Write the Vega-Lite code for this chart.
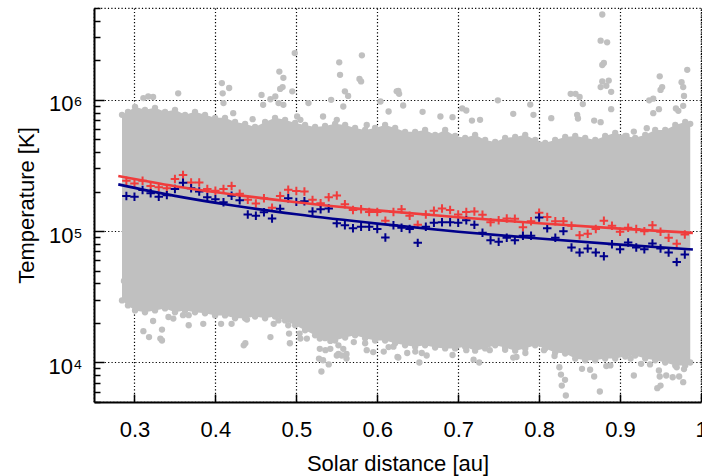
{
"$schema": "https://vega.github.io/schema/vega-lite/v6.json",
"width": 607, "height": 394,
"autosize": {"type": "none"},
"padding": {"left": 94, "top": 8, "right": 1, "bottom": 74},
"background": "white",
"config": {
  "font": "Liberation Sans",
  "view": {"stroke": "black", "strokeDash": [1.2, 2.2], "strokeWidth": 1.2},
  "axis": {"labelFont": "Liberation Sans", "titleFont": "Liberation Sans", "labelFontSize": 22, "titleFontSize": 22, "titleFontWeight": "normal", "labelColor": "black", "titleColor": "black", "domainColor": "black", "domainWidth": 2, "tickColor": "black", "tickWidth": 1.5, "gridColor": "black", "gridDash": [1.2, 2.2], "gridWidth": 1.2, "zindex": 1, "labelFlush": false, "labelOverlap": false}
},
"datasets": {
  "band": [
    {"x":0.2846,"T":768000,"T2":29700},{"x":0.292,"T":810000,"T2":27200},{"x":0.3007,"T":884000,"T2":24900},{"x":0.313,"T":839000,"T2":24100},{"x":0.3254,"T":869000,"T2":24900},{"x":0.3378,"T":810000,"T2":25800},{"x":0.3501,"T":839000,"T2":24100},{"x":0.3625,"T":768000,"T2":24900},{"x":0.3748,"T":810000,"T2":24100},{"x":0.3872,"T":768000,"T2":23700},{"x":0.3996,"T":729000,"T2":22800},{"x":0.4119,"T":729000,"T2":22800},{"x":0.4243,"T":679000,"T2":21700},{"x":0.4367,"T":656000,"T2":21700},{"x":0.449,"T":622000,"T2":22400},{"x":0.4614,"T":679000,"T2":21700},{"x":0.4737,"T":729000,"T2":22400},{"x":0.4861,"T":704000,"T2":20900},{"x":0.4985,"T":667000,"T2":19200},{"x":0.5108,"T":644000,"T2":17600},{"x":0.5232,"T":622000,"T2":16100},{"x":0.5355,"T":633000,"T2":15300},{"x":0.5479,"T":656000,"T2":14700},{"x":0.5603,"T":644000,"T2":15500},{"x":0.5726,"T":611000,"T2":16100},{"x":0.585,"T":590000,"T2":15300},{"x":0.5973,"T":611000,"T2":14700},{"x":0.6097,"T":644000,"T2":14700},{"x":0.6221,"T":611000,"T2":14000},{"x":0.6344,"T":570000,"T2":13500},{"x":0.6468,"T":570000,"T2":13200},{"x":0.6591,"T":590000,"T2":13500},{"x":0.6715,"T":541000,"T2":13000},{"x":0.6839,"T":590000,"T2":12800},{"x":0.6962,"T":531000,"T2":12800},{"x":0.7086,"T":513000,"T2":13200},{"x":0.7209,"T":541000,"T2":12300},{"x":0.7333,"T":495000,"T2":12800},{"x":0.7457,"T":478000,"T2":13500},{"x":0.758,"T":513000,"T2":13000},{"x":0.7704,"T":522000,"T2":12300},{"x":0.7828,"T":541000,"T2":12800},{"x":0.7951,"T":495000,"T2":13500},{"x":0.8075,"T":470000,"T2":12800},{"x":0.8198,"T":495000,"T2":11900},{"x":0.8322,"T":522000,"T2":11700},{"x":0.8446,"T":531000,"T2":10700},{"x":0.8569,"T":513000,"T2":10400},{"x":0.8693,"T":495000,"T2":10400},{"x":0.8816,"T":531000,"T2":10700},{"x":0.894,"T":560000,"T2":10700},{"x":0.9064,"T":531000,"T2":11100},{"x":0.9187,"T":513000,"T2":11300},{"x":0.9311,"T":541000,"T2":10700},{"x":0.9434,"T":590000,"T2":10400},{"x":0.9558,"T":590000,"T2":10000},{"x":0.9682,"T":644000,"T2":9490},{"x":0.9805,"T":679000,"T2":9490},{"x":0.9867,"T":656000,"T2":10000}
  ],
  "pts": [
    {"x":0.498,"T":2270000},{"x":0.581,"T":2180000},{"x":0.553,"T":1930000},{"x":0.554,"T":1550000},{"x":0.578,"T":1440000},{"x":0.58,"T":1380000},{"x":0.479,"T":1640000},{"x":0.484,"T":1470000},{"x":0.48,"T":1210000},{"x":0.483,"T":1250000},{"x":0.495,"T":1160000},{"x":0.408,"T":1340000},{"x":0.409,"T":1120000},{"x":0.417,"T":1230000},{"x":0.354,"T":1120000},{"x":0.457,"T":1090000},{"x":0.474,"T":1060000},{"x":0.56,"T":1160000},{"x":0.564,"T":1070000},{"x":0.543,"T":1000000},{"x":0.515,"T":944000},{"x":0.468,"T":1010000},{"x":0.624,"T":1160000},{"x":0.604,"T":970000},{"x":0.311,"T":1030000},{"x":0.317,"T":1060000},{"x":0.323,"T":1050000},{"x":0.41,"T":944000},{"x":0.459,"T":916000},{"x":0.478,"T":944000},{"x":0.484,"T":916000},{"x":0.558,"T":889000},{"x":0.614,"T":814000},{"x":0.422,"T":791000},{"x":0.446,"T":712000},{"x":0.501,"T":746000},{"x":0.505,"T":704000},{"x":0.533,"T":746000},{"x":0.55,"T":704000},{"x":0.587,"T":644000},
    {"x":0.878,"T":4460000},{"x":0.876,"T":2820000},{"x":0.884,"T":2740000},{"x":0.878,"T":1840000},{"x":0.88,"T":1910000},{"x":0.878,"T":1380000},{"x":0.886,"T":1400000},{"x":0.876,"T":1250000},{"x":0.883,"T":1280000},{"x":0.889,"T":1150000},{"x":0.983,"T":1690000},{"x":0.949,"T":1510000},{"x":0.976,"T":1360000},{"x":0.978,"T":1250000},{"x":0.952,"T":1250000},{"x":0.95,"T":1190000},{"x":0.979,"T":1070000},{"x":0.941,"T":1020000},{"x":0.936,"T":990000},{"x":0.839,"T":1110000},{"x":0.845,"T":1110000},{"x":0.85,"T":1050000},{"x":0.854,"T":927000},{"x":0.889,"T":849000},{"x":0.626,"T":1170000},{"x":0.627,"T":1110000},{"x":0.632,"T":905000},{"x":0.749,"T":990000},{"x":0.789,"T":920000},{"x":0.705,"T":860000},{"x":0.71,"T":829000},{"x":0.768,"T":782000},{"x":0.656,"T":810000},{"x":0.815,"T":725000},{"x":0.847,"T":768000},{"x":0.848,"T":720000},{"x":0.948,"T":849000},{"x":0.941,"T":791000},{"x":0.969,"T":860000},{"x":0.972,"T":824000},{"x":0.978,"T":900000},{"x":0.678,"T":746000},{"x":0.693,"T":738000},{"x":0.727,"T":704000},{"x":0.717,"T":695000},{"x":0.793,"T":768000},{"x":0.868,"T":695000},{"x":0.876,"T":676000},{"x":0.917,"T":573000},{"x":0.908,"T":531000},{"x":0.933,"T":608000},
    {"x":0.287,"T":41800},{"x":0.29,"T":32400},{"x":0.311,"T":17300},{"x":0.318,"T":15600},{"x":0.332,"T":15200},{"x":0.334,"T":14700},{"x":0.334,"T":17800},{"x":0.323,"T":20700},{"x":0.342,"T":22200},{"x":0.348,"T":21600},{"x":0.367,"T":22900},{"x":0.367,"T":19200},{"x":0.385,"T":19700},{"x":0.36,"T":22900},{"x":0.407,"T":19700},{"x":0.42,"T":19700},{"x":0.437,"T":14000},{"x":0.435,"T":13500},{"x":0.439,"T":21200},{"x":0.468,"T":15600},{"x":0.472,"T":19700},{"x":0.478,"T":20900},{"x":0.49,"T":19200},{"x":0.491,"T":16600},{"x":0.492,"T":14000},{"x":0.504,"T":16600},{"x":0.505,"T":15200},{"x":0.513,"T":15200},{"x":0.529,"T":15200},{"x":0.538,"T":15600},{"x":0.542,"T":14600},{"x":0.529,"T":12700},{"x":0.536,"T":12400},{"x":0.542,"T":12700},{"x":0.528,"T":10700},{"x":0.533,"T":10400},{"x":0.54,"T":9660},{"x":0.531,"T":8530},{"x":0.552,"T":13500},{"x":0.552,"T":11600},{"x":0.558,"T":12700},{"x":0.562,"T":11600},{"x":0.562,"T":10700},{"x":0.55,"T":11300},{"x":0.556,"T":11300},{"x":0.571,"T":14300},{"x":0.585,"T":14000},{"x":0.587,"T":12400},{"x":0.595,"T":12000},{"x":0.608,"T":12100},{"x":0.614,"T":13100},{"x":0.62,"T":13200},{"x":0.625,"T":11000},
    {"x":0.626,"T":10900},{"x":0.637,"T":11800},{"x":0.647,"T":12100},{"x":0.652,"T":10000},{"x":0.655,"T":11800},{"x":0.661,"T":11300},{"x":0.693,"T":11400},{"x":0.71,"T":12400},{"x":0.726,"T":10000},{"x":0.719,"T":10500},{"x":0.739,"T":12400},{"x":0.758,"T":12500},{"x":0.768,"T":10900},{"x":0.772,"T":11000},{"x":0.783,"T":11800},{"x":0.806,"T":12400},{"x":0.819,"T":11200},{"x":0.825,"T":9200},{"x":0.827,"T":8090},{"x":0.832,"T":7380},{"x":0.828,"T":6670},{"x":0.833,"T":5600},{"x":0.853,"T":8950},{"x":0.863,"T":8800},{"x":0.868,"T":7820},{"x":0.875,"T":6010},{"x":0.883,"T":9380},{"x":0.888,"T":9500},{"x":0.917,"T":7960},{"x":0.913,"T":10700},{"x":0.926,"T":9770},{"x":0.937,"T":9660},{"x":0.948,"T":8690},{"x":0.949,"T":7820},{"x":0.946,"T":6370},{"x":0.95,"T":6670},{"x":0.957,"T":7960},{"x":0.965,"T":7720},{"x":0.973,"T":7820},{"x":0.978,"T":7080},{"x":0.97,"T":9200},{"x":0.979,"T":8900}
  ],
  "bins": [
    {"x":0.29,"T":242000,"s":"r"},{"x":0.30,"T":231000,"s":"r"},{"x":0.31,"T":242000,"s":"r"},{"x":0.32,"T":221000,"s":"r"},{"x":0.33,"T":216000,"s":"r"},{"x":0.34,"T":212000,"s":"r"},{"x":0.35,"T":249000,"s":"r"},{"x":0.36,"T":267000,"s":"r"},{"x":0.37,"T":235000,"s":"r"},{"x":0.38,"T":235000,"s":"r"},{"x":0.39,"T":209000,"s":"r"},{"x":0.40,"T":203000,"s":"r"},{"x":0.41,"T":209000,"s":"r"},{"x":0.42,"T":221000,"s":"r"},{"x":0.43,"T":193000,"s":"r"},{"x":0.44,"T":173000,"s":"r"},{"x":0.45,"T":162000,"s":"r"},{"x":0.46,"T":178000,"s":"r"},{"x":0.47,"T":151000,"s":"r"},{"x":0.48,"T":185000,"s":"r"},{"x":0.49,"T":207000,"s":"r"},{"x":0.50,"T":202000,"s":"r"},{"x":0.51,"T":200000,"s":"r"},{"x":0.52,"T":173000,"s":"r"},{"x":0.53,"T":163000,"s":"r"},{"x":0.54,"T":181000,"s":"r"},{"x":0.55,"T":187000,"s":"r"},{"x":0.56,"T":160000,"s":"r"},{"x":0.57,"T":145000,"s":"r"},{"x":0.58,"T":147000,"s":"r"},{"x":0.59,"T":140000,"s":"r"},{"x":0.60,"T":140000,"s":"r"},{"x":0.61,"T":120000,"s":"r"},{"x":0.62,"T":140000,"s":"r"},{"x":0.63,"T":147000,"s":"r"},{"x":0.64,"T":131000,"s":"r"},{"x":0.65,"T":112000,"s":"r"},{"x":0.66,"T":134000,"s":"r"},{"x":0.67,"T":143000,"s":"r"},{"x":0.68,"T":149000,"s":"r"},{"x":0.69,"T":145000,"s":"r"},{"x":0.70,"T":134000,"s":"r"},{"x":0.71,"T":140000,"s":"r"},{"x":0.72,"T":141000,"s":"r"},{"x":0.73,"T":133000,"s":"r"},{"x":0.74,"T":117000,"s":"r"},{"x":0.75,"T":121000,"s":"r"},{"x":0.76,"T":125000,"s":"r"},{"x":0.77,"T":124000,"s":"r"},{"x":0.78,"T":107000,"s":"r"},{"x":0.79,"T":119000,"s":"r"},{"x":0.80,"T":138000,"s":"r"},{"x":0.81,"T":128000,"s":"r"},{"x":0.82,"T":119000,"s":"r"},{"x":0.83,"T":119000,"s":"r"},{"x":0.84,"T":110000,"s":"r"},{"x":0.85,"T":93200,"s":"r"},{"x":0.86,"T":95400,"s":"r"},{"x":0.87,"T":104000,"s":"r"},{"x":0.88,"T":120000,"s":"r"},{"x":0.89,"T":110000,"s":"r"},{"x":0.90,"T":98800,"s":"r"},{"x":0.91,"T":106000,"s":"r"},{"x":0.92,"T":104000,"s":"r"},{"x":0.93,"T":100000,"s":"r"},{"x":0.94,"T":111000,"s":"r"},{"x":0.95,"T":98800,"s":"r"},{"x":0.96,"T":88900,"s":"r"},{"x":0.97,"T":80000,"s":"r"},{"x":0.98,"T":94400,"s":"r"},
    {"x":0.29,"T":185000,"s":"b"},{"x":0.30,"T":183000,"s":"b"},{"x":0.31,"T":206000,"s":"b"},{"x":0.32,"T":194000,"s":"b"},{"x":0.33,"T":183000,"s":"b"},{"x":0.34,"T":188000,"s":"b"},{"x":0.35,"T":209000,"s":"b"},{"x":0.36,"T":234000,"s":"b"},{"x":0.37,"T":212000,"s":"b"},{"x":0.38,"T":200000,"s":"b"},{"x":0.39,"T":181000,"s":"b"},{"x":0.40,"T":175000,"s":"b"},{"x":0.41,"T":166000,"s":"b"},{"x":0.42,"T":186000,"s":"b"},{"x":0.43,"T":172000,"s":"b"},{"x":0.44,"T":134000,"s":"b"},{"x":0.45,"T":131000,"s":"b"},{"x":0.46,"T":139000,"s":"b"},{"x":0.47,"T":125000,"s":"b"},{"x":0.48,"T":148000,"s":"b"},{"x":0.49,"T":178000,"s":"b"},{"x":0.50,"T":167000,"s":"b"},{"x":0.51,"T":169000,"s":"b"},{"x":0.52,"T":141000,"s":"b"},{"x":0.53,"T":147000,"s":"b"},{"x":0.54,"T":149000,"s":"b"},{"x":0.55,"T":115000,"s":"b"},{"x":0.56,"T":111000,"s":"b"},{"x":0.57,"T":105000,"s":"b"},{"x":0.58,"T":108000,"s":"b"},{"x":0.59,"T":108000,"s":"b"},{"x":0.60,"T":104000,"s":"b"},{"x":0.61,"T":89500,"s":"b"},{"x":0.62,"T":111000,"s":"b"},{"x":0.63,"T":106000,"s":"b"},{"x":0.64,"T":104000,"s":"b"},{"x":0.65,"T":81400,"s":"b"},{"x":0.66,"T":108000,"s":"b"},{"x":0.67,"T":116000,"s":"b"},{"x":0.68,"T":117000,"s":"b"},{"x":0.69,"T":117000,"s":"b"},{"x":0.70,"T":116000,"s":"b"},{"x":0.71,"T":121000,"s":"b"},{"x":0.72,"T":112000,"s":"b"},{"x":0.73,"T":97100,"s":"b"},{"x":0.74,"T":85400,"s":"b"},{"x":0.75,"T":82900,"s":"b"},{"x":0.76,"T":89200,"s":"b"},{"x":0.77,"T":85400,"s":"b"},{"x":0.78,"T":92100,"s":"b"},{"x":0.79,"T":92100,"s":"b"},{"x":0.80,"T":127000,"s":"b"},{"x":0.81,"T":105000,"s":"b"},{"x":0.82,"T":88900,"s":"b"},{"x":0.83,"T":100000,"s":"b"},{"x":0.84,"T":75100,"s":"b"},{"x":0.85,"T":68800,"s":"b"},{"x":0.86,"T":73800,"s":"b"},{"x":0.87,"T":68800,"s":"b"},{"x":0.88,"T":64400,"s":"b"},{"x":0.89,"T":79600,"s":"b"},{"x":0.90,"T":72900,"s":"b"},{"x":0.91,"T":82000,"s":"b"},{"x":0.92,"T":75100,"s":"b"},{"x":0.93,"T":72900,"s":"b"},{"x":0.94,"T":80500,"s":"b"},{"x":0.95,"T":73800,"s":"b"},{"x":0.96,"T":68800,"s":"b"},{"x":0.97,"T":58300,"s":"b"},{"x":0.98,"T":66400,"s":"b"}
  ],
  "fit": [
    {"x":0.28,"T":263000,"s":"r"},{"x":0.35,"T":220000,"s":"r"},{"x":0.42,"T":191000,"s":"r"},{"x":0.5,"T":166000,"s":"r"},{"x":0.6,"T":144000,"s":"r"},{"x":0.7,"T":127500,"s":"r"},{"x":0.8,"T":114700,"s":"r"},{"x":0.9,"T":104500,"s":"r"},{"x":0.99,"T":97000,"s":"r"},
    {"x":0.28,"T":227000,"s":"b"},{"x":0.35,"T":185500,"s":"b"},{"x":0.42,"T":157300,"s":"b"},{"x":0.5,"T":134400,"s":"b"},{"x":0.6,"T":114000,"s":"b"},{"x":0.7,"T":99000,"s":"b"},{"x":0.8,"T":87800,"s":"b"},{"x":0.9,"T":78900,"s":"b"},{"x":0.99,"T":72400,"s":"b"}
  ]
},
"encoding": {
  "x": {"field": "x", "type": "quantitative",
    "scale": {"domain": [0.25, 1.0], "nice": false, "zero": false},
    "axis": {"title": "Solar distance [au]", "values": [0.3,0.4,0.5,0.6,0.7,0.8,0.9,1.0],
      "labelExpr": "datum.value > 0.99 ? '1' : format(datum.value, '.1f')",
      "grid": true, "tickSize": -8, "labelPadding": 25, "titlePadding": 13}},
  "y": {"field": "T", "type": "quantitative",
    "scale": {"type": "log", "domain": [5000, 5000000], "nice": false},
    "axis": {"title": "Temperature [K]",
      "values": [5000,6000,7000,8000,9000,10000,20000,30000,40000,50000,60000,70000,80000,90000,100000,200000,300000,400000,500000,600000,700000,800000,900000,1000000,2000000,3000000,4000000,5000000],
      "labelExpr": "datum.value == 10000 ? '10⁴' : datum.value == 100000 ? '10⁵' : datum.value == 1000000 ? '10⁶' : ''",
      "grid": true,
      "gridOpacity": {"condition": {"test": "datum.value == 10000 || datum.value == 100000 || datum.value == 1000000", "value": 1}, "value": 0},
      "tickSize": {"condition": {"test": "datum.value == 10000 || datum.value == 100000 || datum.value == 1000000", "value": -10}, "value": -6},
      "labelPadding": 22, "labelOffset": 4, "titlePadding": 10}}
},
"layer": [
  {"data": {"name": "band"}, "mark": {"type": "area", "color": "#c0c0c0", "opacity": 1},
   "encoding": {"y2": {"field": "T2"}}},
  {"data": {"name": "band"}, "transform": [{"fold": ["T", "T2"], "as": ["k", "T"]}],
   "mark": {"type": "circle", "color": "#c0c0c0", "opacity": 1, "size": 40}},
  {"data": {"name": "pts"}, "mark": {"type": "circle", "color": "#c0c0c0", "opacity": 1, "size": 40}},
  {"data": {"name": "bins"}, "mark": {"type": "point", "shape": "M-1,0H1M0,-1V1", "size": 72, "strokeWidth": 2, "opacity": 1, "filled": false},
   "encoding": {"color": {"field": "s", "type": "nominal", "scale": {"domain": ["r", "b"], "range": ["#f03c3c", "#00008b"]}, "legend": null}}},
  {"data": {"name": "fit"}, "mark": {"type": "line", "strokeWidth": 2.6, "interpolate": "monotone"},
   "encoding": {"color": {"field": "s", "type": "nominal", "scale": {"domain": ["r", "b"], "range": ["#f03c3c", "#00008b"]}, "legend": null}}}
]
}
